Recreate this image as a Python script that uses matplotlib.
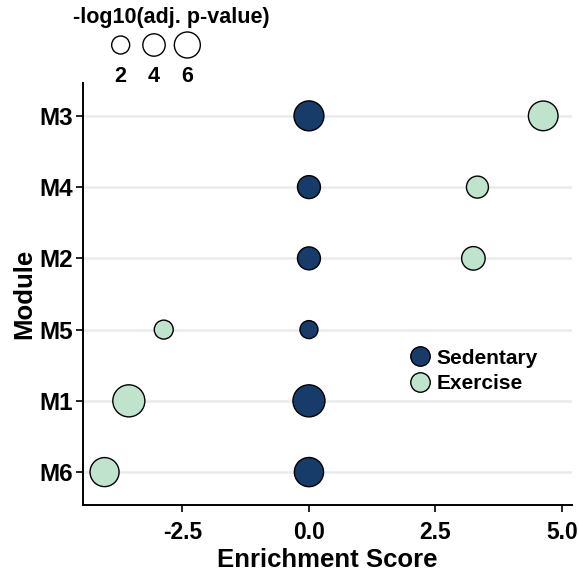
import numpy as np
import matplotlib.pyplot as plt
from matplotlib.lines import Line2D

plt.rcParams["font.family"] = ["Liberation Sans", "DejaVu Sans"]
plt.rcParams["font.weight"] = "bold"

# Data
modules = ["M6", "M1", "M5", "M2", "M4", "M3"]
sed_score = [0.0, 0.0, 0.0, 0.0, 0.0, 0.0]
sed_logp = [8.0, 10.0, 2.0, 4.3, 4.3, 8.5]
ex_score = [-4.04, -3.56, -2.87, 3.25, 3.33, 4.63]
ex_logp = [7.9, 10.0, 2.4, 4.6, 3.8, 8.3]
key_values = [2, 4, 6]

sed_color = "#173c69"
ex_color = "#bfe3cd"


def to_size(v):
    # marker area grows linearly with -log10(p)
    v = np.asarray(v, dtype=float)
    d_px = np.sqrt(324 + 88 * (v - 2))
    return (d_px * 0.72) ** 2


W, H = 579, 577
fig = plt.figure(figsize=(W / 100, H / 100), dpi=100)
ax = fig.add_axes([0.143, 0.125, 0.845, 0.731])

ypos = np.arange(len(modules))
for y in ypos:
    ax.axhline(y, color="#ebebeb", lw=1.8, zorder=0)

ax.scatter(sed_score, ypos, s=to_size(sed_logp), color=sed_color,
           edgecolor="black", linewidth=1.0, zorder=3)
ax.scatter(ex_score, ypos, s=to_size(ex_logp), color=ex_color,
           edgecolor="black", linewidth=1.0, zorder=3)

ax.set_xlim(-4.47, 5.2)
ax.set_ylim(-0.46, 5.46)
ax.set_yticks(ypos)
ax.set_yticklabels(modules)
ax.set_xticks([-2.5, 0.0, 2.5, 5.0])
ax.set_xticklabels(["-2.5", "0.0", "2.5", "5.0"])
ax.tick_params(axis="both", width=1.2, length=5, color="black")
ax.tick_params(axis="x", labelsize=16.5, pad=6.5)
ax.tick_params(axis="y", labelsize=17.5, pad=2)
for lab in ax.get_xticklabels() + ax.get_yticklabels():
    lab.set_fontweight("bold")

for side in ["top", "right"]:
    ax.spines[side].set_visible(False)
for side in ["left", "bottom"]:
    ax.spines[side].set_linewidth(1.4)

ax.set_xlabel("Enrichment Score", fontsize=18.5, fontweight="bold", labelpad=3)
ax.set_ylabel("Module", fontsize=18.5, fontweight="bold", labelpad=2)

handles = [
    Line2D([], [], marker="o", ls="", markersize=14, markerfacecolor=sed_color,
           markeredgecolor="black", markeredgewidth=1.0, label="Sedentary"),
    Line2D([], [], marker="o", ls="", markersize=14, markerfacecolor=ex_color,
           markeredgecolor="black", markeredgewidth=1.0, label="Exercise"),
]
ax.legend(handles=handles, loc="center left", bbox_to_anchor=(0.638, 0.318),
          frameon=False, prop={"size": 15, "weight": "bold"},
          handletextpad=0.0, labelspacing=0.3, borderaxespad=0,
          handlelength=1.6)

# size key
kax = fig.add_axes([104 / W, (H - 90) / H, 100 / W, 60 / H])
kax.scatter(np.arange(len(key_values)), np.zeros(len(key_values)),
            s=to_size(key_values), facecolor="white", edgecolor="black",
            linewidth=1.0, clip_on=False)
for i, v in enumerate(key_values):
    kax.text(i, -1.05, str(v), ha="center", va="center", fontsize=15.5,
             fontweight="bold")
kax.set_xlim(-0.5, 2.5)
kax.set_ylim(-1.5, 0.5)
kax.axis("off")
fig.text(171 / W, 1 - 17 / H, "-log10(adj. p-value)", ha="center",
         va="center", fontsize=15.5, fontweight="bold")

fig.savefig("out.png", dpi=100)
